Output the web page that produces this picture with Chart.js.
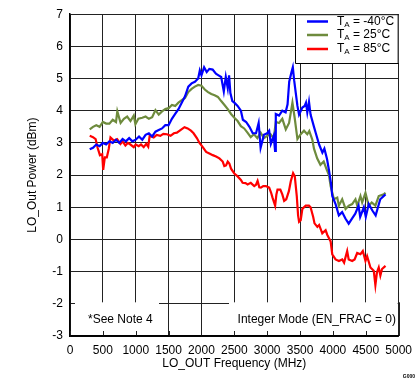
<!DOCTYPE html>
<html><head><meta charset="utf-8">
<script src="https://cdn.jsdelivr.net/npm/chart.js@4.4.1/dist/chart.umd.min.js"></script>
<style>html,body{margin:0;padding:0;background:#fff}#wrap{width:419px;height:382px;position:relative}</style>
</head><body><div id="wrap"><canvas id="c" width="419" height="382"></canvas></div>
<script>
const xTickValues = [0,500,1000,1500,2000,2500,3000,3500,4000,4500,5000];
const yTickValues = [-3,-2,-1,0,1,2,3,4,5,6,7];
const seriesNames = ['-40°C','25°C','85°C'];

const freqBlue = [300,350,400,450,500,550,600,650,700,750,800,850,900,950,1000,1050,1100,1150,1200,1250,1300,1350,1400,1450,1500,1550,1600,1650,1700,1750,1800,1850,1900,1950,1975,2000,2040,2080,2120,2170,2220,2260,2300,2340,2370,2400,2420,2440,2470,2500,2550,2600,2630,2680,2730,2780,2830,2870,2900,2950,3000,3030,3056,3100,3120,3131,3180,3230,3280,3310,3335,3370,3390,3410,3435,3460,3485,3535,3570,3590,3610,3636,3660,3712,3740,3790,3840,3870,3910,3940,3970,3990,4040,4090,4140,4190,4240,4290,4340,4390,4415,4470,4500,4545,4600,4650,4720,4800];
const powBlue = [2.80,2.85,2.95,2.90,3.00,2.95,3.05,3.00,3.10,3.00,3.12,3.05,3.15,3.05,3.10,3.20,3.10,3.25,3.30,3.20,3.35,3.40,3.45,3.55,3.55,3.75,3.90,4.05,4.25,4.45,4.75,4.85,4.90,5.00,5.25,5.10,5.35,5.20,5.30,5.28,5.15,5.10,5.05,4.60,5.05,4.70,5.10,4.55,4.30,4.25,4.15,4.00,3.72,3.65,3.50,3.30,3.30,3.62,2.85,3.25,3.30,3.38,2.97,3.22,2.75,3.90,3.85,4.00,3.95,4.20,4.90,5.20,5.35,4.95,4.55,4.15,3.88,4.10,4.15,4.25,3.95,4.28,3.88,3.50,3.30,2.95,2.70,2.82,2.50,2.15,1.75,1.35,1.10,0.75,0.85,0.65,0.49,0.65,0.80,1.05,0.70,1.00,0.70,1.10,0.90,0.75,1.25,1.40];

const freqGreen = [300,350,400,450,500,550,600,650,700,720,770,820,870,920,970,995,1040,1100,1150,1200,1250,1300,1350,1400,1450,1500,1550,1600,1650,1700,1750,1800,1850,1900,1950,2000,2050,2100,2150,2200,2250,2300,2350,2400,2450,2500,2550,2600,2650,2700,2750,2800,2850,2900,2950,3000,3050,3100,3131,3180,3230,3283,3333,3384,3420,3460,3510,3560,3610,3640,3687,3712,3760,3810,3860,3910,3940,3965,4015,4066,4090,4141,4192,4242,4293,4343,4370,4419,4445,4495,4545,4590,4646,4697,4773,4800];
const powGreen = [3.42,3.50,3.55,3.50,3.65,3.60,3.60,3.72,3.65,3.98,3.62,3.75,3.82,3.68,3.85,3.58,3.75,3.78,3.82,3.75,3.80,4.02,3.88,3.98,4.05,4.08,4.18,4.15,4.25,4.33,4.40,4.58,4.68,4.75,4.80,4.78,4.66,4.58,4.52,4.48,4.43,4.30,4.18,4.05,3.90,3.78,3.68,3.52,3.45,3.32,3.18,3.27,3.15,3.32,3.15,3.22,3.27,3.15,3.65,3.62,3.75,3.42,3.62,4.25,3.75,3.12,3.27,3.38,3.27,3.37,3.10,2.82,2.52,2.32,2.42,2.15,2.00,1.66,1.25,1.30,1.05,1.25,0.95,1.05,1.10,1.25,1.05,1.35,1.15,1.45,1.05,1.15,1.05,1.35,1.40,1.45];

const freqRed = [300,350,390,420,455,490,505,530,560,590,616,667,717,768,800,843,880,919,970,1000,1045,1080,1121,1160,1190,1212,1273,1320,1374,1420,1475,1530,1580,1626,1680,1742,1790,1840,1880,1930,1970,2020,2071,2121,2172,2222,2273,2323,2348,2374,2400,2424,2450,2500,2550,2600,2626,2670,2702,2750,2803,2830,2854,2880,2904,2940,2980,3030,3060,3081,3121,3140,3157,3200,3230,3258,3290,3330,3359,3394,3420,3450,3470,3485,3510,3535,3586,3636,3660,3700,3720,3763,3790,3838,3889,3915,3965,3990,4040,4091,4141,4170,4217,4240,4293,4330,4369,4419,4455,4495,4520,4571,4621,4646,4670,4697,4722,4747,4800];
const powRed = [3.22,3.18,3.12,2.85,2.62,2.65,2.16,2.55,2.55,2.82,3.17,3.07,3.12,2.97,3.05,2.92,3.00,2.95,2.87,2.95,2.90,2.95,2.87,2.97,2.88,3.22,3.17,3.25,3.22,3.28,3.27,3.22,3.30,3.32,3.40,3.49,3.45,3.38,3.30,3.15,3.00,2.87,2.72,2.67,2.62,2.58,2.52,2.42,2.28,2.30,2.42,2.36,2.20,2.05,1.96,1.85,1.76,1.75,1.71,1.76,1.66,1.70,1.82,1.62,1.61,1.66,1.66,1.61,1.45,1.30,1.05,1.40,1.55,1.55,1.40,1.20,1.25,1.50,1.81,2.06,1.96,1.35,0.75,0.55,0.60,0.95,1.05,1.05,1.00,0.70,0.50,0.39,0.45,0.19,0.29,0.14,-0.06,-0.46,-0.62,-0.67,-0.62,-0.72,-0.36,-0.62,-0.67,-0.62,-0.42,-0.46,-0.36,-0.67,-0.52,-0.87,-0.97,-1.42,-1.02,-0.87,-1.12,-0.92,-0.82];

const colors = ['#0000ff','#6e8b3d','#ff0000'];
const FONT = '"Liberation Sans", Arial, sans-serif';

function pts(f, v){ return f.map((x,i)=>({x:x, y:v[i]})); }

const overlay = {
  id:'overlay',
  beforeDatasetsDraw(chart){
    const {ctx, chartArea:a, scales:{x, y}} = chart;
    const yTop = y.getPixelForValue(-2) - 1.5;
    ctx.save();
    ctx.fillStyle = '#fff';
    ctx.fillRect(75, yTop, 159-75, a.bottom - 1 - yTop);
    ctx.fillRect(229, yTop, a.right - 1 - 229, a.bottom - 1 - yTop);
    ctx.strokeStyle = '#222'; ctx.lineWidth = 1;
    ctx.beginPath();
    xTickValues.forEach(v=>{ const px = Math.round(x.getPixelForValue(v)) + 0.5; ctx.moveTo(px, a.bottom); ctx.lineTo(px, a.bottom - 5); });
    ctx.moveTo(Math.round(a.right)+0.5, yTop); ctx.lineTo(Math.round(a.right)+0.5, a.bottom);
    ctx.stroke();
    ctx.strokeStyle = '#000'; ctx.lineWidth = 1.5;
    ctx.beginPath(); ctx.moveTo(a.left, a.bottom); ctx.lineTo(a.right, a.bottom); ctx.stroke();
    ctx.fillStyle = '#000';
    ctx.font = '12px ' + FONT;
    ctx.textBaseline = 'middle';
    ctx.textAlign = 'left';
    ctx.fillText('*See Note 4', 88, 320);
    ctx.textAlign = 'right';
    ctx.fillText('Integer Mode (EN_FRAC = 0)', 396, 320);
    ctx.restore();
  },
  afterDatasetsDraw(chart){
    const {ctx, chartArea:a} = chart;
    ctx.save();
    const lx = 295, ly = a.top;
    ctx.fillStyle = '#fff';
    ctx.fillRect(lx, ly, a.right - lx, 63 - ly);
    ctx.strokeStyle = '#000'; ctx.lineWidth = 1;
    ctx.beginPath();
    ctx.moveTo(lx+0.5, ly); ctx.lineTo(lx+0.5, 63.5); ctx.lineTo(a.right, 63.5);
    ctx.moveTo(lx, ly+0.5); ctx.lineTo(a.right, ly+0.5);
    ctx.moveTo(a.right-0.5, ly); ctx.lineTo(a.right-0.5, 63.5);
    ctx.stroke();
    const rows = [21.5, 35, 49];
    seriesNames.forEach((name,i)=>{
      const yy = rows[i];
      ctx.strokeStyle = colors[i]; ctx.lineWidth = 2.5;
      ctx.beginPath(); ctx.moveTo(307, yy); ctx.lineTo(328, yy); ctx.stroke();
      ctx.fillStyle = '#000';
      ctx.textBaseline = 'middle'; ctx.textAlign = 'left';
      ctx.font = '12px ' + FONT;
      let tx = 337;
      ctx.fillText('T', tx, yy); tx += ctx.measureText('T').width;
      ctx.font = '8px ' + FONT;
      ctx.fillText('A', tx, yy + 3); tx += ctx.measureText('A').width;
      ctx.font = '12px ' + FONT;
      ctx.fillText(' = ' + name, tx, yy);
    });
    ctx.font = 'bold 5px ' + FONT;
    ctx.textAlign = 'right'; ctx.textBaseline = 'middle';
    ctx.fillText('G000', 415, 377);
    ctx.restore();
  }
};

Chart.defaults.font.family = FONT;
Chart.defaults.font.size = 12;
Chart.defaults.color = '#000';

new Chart(document.getElementById('c'), {
  type:'line',
  data:{ datasets:[
    {label:'TA = '+seriesNames[0], data:pts(freqBlue,powBlue), borderColor:colors[0]},
    {label:'TA = '+seriesNames[1], data:pts(freqGreen,powGreen), borderColor:colors[1]},
    {label:'TA = '+seriesNames[2], data:pts(freqRed,powRed), borderColor:colors[2]}
  ].map(d=>Object.assign(d,{borderWidth:2.2, pointRadius:0, tension:0, fill:false, borderJoinStyle:'miter'}))},
  options:{
    responsive:false, animation:false, devicePixelRatio:1,
    layout:{padding:{top:7,right:19,left:0,bottom:0}},
    plugins:{legend:{display:false}, tooltip:{enabled:false}},
    scales:{
      x:{type:'linear', min:0, max:5000,
        afterBuildTicks:s=>{ s.ticks = xTickValues.map(v=>({value:v})); },
        afterFit:s=>{ s.height = 46; },
        grid:{color:'#222', lineWidth:1, drawTicks:false},
        border:{display:true, color:'#000', width:1.5},
        ticks:{padding:7, maxRotation:0, autoSkip:false, font:{size:12}, callback:v=>String(v)},
        title:{display:true, text:'LO_OUT Frequency (MHz)', font:{size:12}, padding:{top:0,bottom:11}}
      },
      y:{type:'linear', min:-3, max:7,
        afterBuildTicks:s=>{ s.ticks = yTickValues.map(v=>({value:v})); },
        afterFit:s=>{ s.width = 70; },
        grid:{color:'#222', lineWidth:1, drawTicks:false},
        border:{display:true, color:'#000', width:1.5},
        ticks:{padding:7, autoSkip:false, font:{size:12}, callback:v=>String(v)},
        title:{display:true, text:'LO_Out Power (dBm)', font:{size:12}, padding:{top:25,bottom:0}}
      }
    }
  },
  plugins:[overlay]
});
</script>
</body></html>
